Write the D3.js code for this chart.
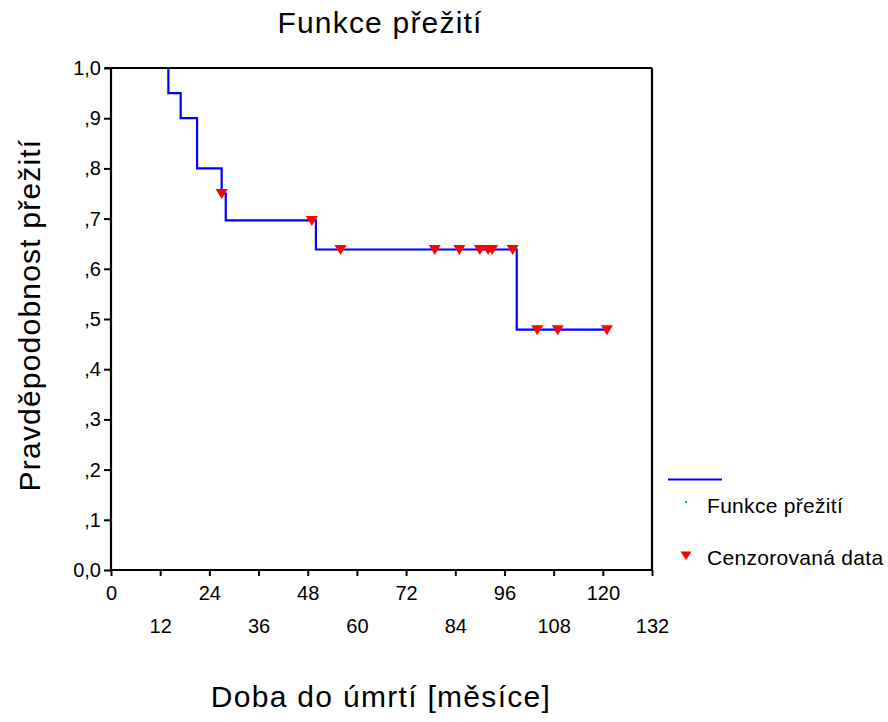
<!DOCTYPE html>
<html>
<head>
<meta charset="utf-8">
<script src="https://cdn.jsdelivr.net/npm/d3@7"></script>
<style>
  html, body { margin: 0; padding: 0; background: #fff; }
  svg { display: block; font-family: "Liberation Sans", Arial, sans-serif; }
</style>
</head>
<body>
<svg id="chart" width="888" height="722"></svg>
<script>
// Kaplan–Meier steps: time of each drop (months) and survival after it
const stepTimes = [0, 14, 17, 21, 27, 28, 50, 99];
const stepSurvival = [1.0, 0.95, 0.90, 0.80, 0.75, 0.6964, 0.6384, 0.4788];
// Censored observations
const censorTimes = [27, 49, 56, 79, 85, 90, 92, 93, 98, 104, 109, 121];
const censorSurvival = [0.75, 0.6964, 0.6384, 0.6384, 0.6384, 0.6384, 0.6384, 0.6384, 0.6384, 0.4788, 0.4788, 0.4788];
const lastTime = 121;
// Axis ticks
const xTicks = [0, 12, 24, 36, 48, 60, 72, 84, 96, 108, 120, 132];
const yTicks = [0, 0.1, 0.2, 0.3, 0.4, 0.5, 0.6, 0.7, 0.8, 0.9, 1.0];
const yTickLabels = ["0,0", ",1", ",2", ",3", ",4", ",5", ",6", ",7", ",8", ",9", "1,0"];

const svg = d3.select("#chart");
const plot = { left: 111, right: 652, top: 68, bottom: 570 };

const x = d3.scaleLinear().domain([0, 132]).range([plot.left, plot.right]);
const y = d3.scaleLinear().domain([0, 1]).range([plot.bottom, plot.top]);

// Title
svg.append("text")
  .attr("x", 380).attr("y", 33)
  .attr("text-anchor", "middle")
  .style("font-size", "30px").style("letter-spacing", "1.2px")
  .text("Funkce přežití");

// Survival step line
const pts = [];
stepTimes.forEach((t, i) => {
  if (i > 0) pts.push([t, stepSurvival[i - 1]]);
  pts.push([t, stepSurvival[i]]);
});
pts.push([lastTime, stepSurvival[stepSurvival.length - 1]]);

svg.append("path")
  .datum(pts)
  .attr("fill", "none")
  .attr("stroke", "#0000ff")
  .attr("stroke-width", 2.2)
  .attr("d", d3.line().x(d => x(d[0])).y(d => y(d[1])));

// Frame (top and right)
svg.append("line")
  .attr("x1", x(0) - 6).attr("x2", x(132))
  .attr("y1", y(1)).attr("y2", y(1))
  .attr("stroke", "#000").attr("stroke-width", 2.2);
svg.append("line")
  .attr("x1", x(132)).attr("x2", x(132))
  .attr("y1", y(1)).attr("y2", y(0))
  .attr("stroke", "#000").attr("stroke-width", 2.2);

// Y axis
const yAxis = d3.axisLeft(y)
  .tickValues(yTicks)
  .tickSize(7)
  .tickFormat((d, i) => yTickLabels[i]);
const gy = svg.append("g")
  .attr("transform", `translate(${plot.left},0)`)
  .call(yAxis);
gy.select(".domain").attr("stroke", "#000").attr("stroke-width", 2.2)
  .attr("d", `M0,${plot.bottom}V${plot.top}`);
gy.selectAll(".tick line").attr("stroke", "#000").attr("stroke-width", 2);
gy.selectAll(".tick text")
  .attr("x", -10)
  .style("font-size", "20px")
  .style("font-family", "'Liberation Sans', Arial, sans-serif")
  .attr("fill", "#000");

// X axis
const xAxis = d3.axisBottom(x)
  .tickValues(xTicks)
  .tickSize(6)
  .tickFormat(d => d);
const gx = svg.append("g")
  .attr("transform", `translate(0,${plot.bottom})`)
  .call(xAxis);
gx.select(".domain").attr("stroke", "#000").attr("stroke-width", 2.2)
  .attr("d", `M${plot.left},0H${plot.right}`);
gx.selectAll(".tick line").attr("stroke", "#000").attr("stroke-width", 2);
gx.selectAll(".tick text")
  .attr("dy", null)
  .attr("y", (d, i) => (i % 2 === 0 ? 30 : 63))
  .style("font-size", "20px")
  .style("font-family", "'Liberation Sans', Arial, sans-serif")
  .attr("fill", "#000");

// Censor markers
const tri = (cx, cy) => `M${cx - 6},${cy - 4.5}L${cx + 6},${cy - 4.5}L${cx},${cy + 5.5}Z`;
svg.append("g").selectAll("path")
  .data(censorTimes.map((t, i) => [t, censorSurvival[i]]))
  .join("path")
  .attr("d", d => tri(x(d[0]), y(d[1])))
  .attr("fill", "#ff0000");

// Axis titles
svg.append("text")
  .attr("x", 381).attr("y", 707)
  .attr("text-anchor", "middle")
  .style("font-size", "30px").style("letter-spacing", "1.3px")
  .text("Doba do úmrtí [měsíce]");
svg.append("text")
  .attr("transform", "translate(40,315) rotate(-90)")
  .attr("text-anchor", "middle")
  .style("font-size", "30px").style("letter-spacing", "1.2px")
  .text("Pravděpodobnost přežití");

// Legend
const lg = svg.append("g");
lg.append("line")
  .attr("x1", 668).attr("x2", 722).attr("y1", 479.5).attr("y2", 479.5)
  .attr("stroke", "#0000ff").attr("stroke-width", 2);
lg.append("rect")
  .attr("x", 685).attr("y", 501).attr("width", 2).attr("height", 2)
  .attr("fill", "#00cc00");
lg.append("text")
  .attr("x", 707).attr("y", 513)
  .style("font-size", "21px").style("letter-spacing", "0.3px")
  .text("Funkce přežití");
lg.append("path")
  .attr("d", "M680.5,551.5L691.5,551.5L686,560Z")
  .attr("fill", "#ff0000");
lg.append("text")
  .attr("x", 707).attr("y", 565)
  .style("font-size", "21px").style("letter-spacing", "0.3px")
  .text("Cenzorovaná data");
</script>
</body>
</html>
